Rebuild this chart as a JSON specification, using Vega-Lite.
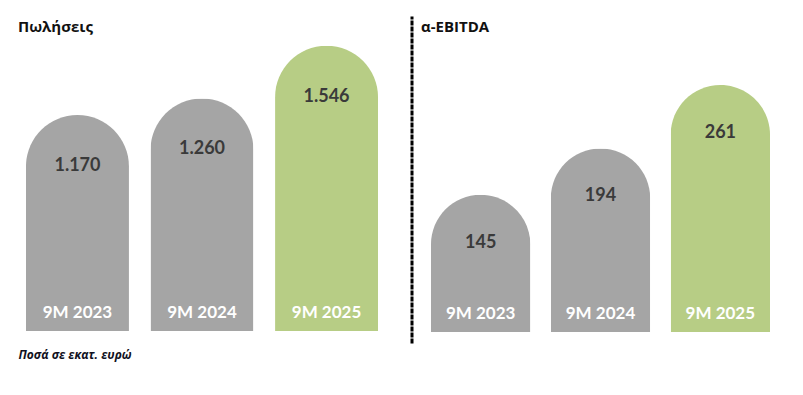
{
  "$schema": "https://vega.github.io/schema/vega-lite/v6.json",
  "background": "white",
  "padding": {"left": 18, "top": 16, "right": 13, "bottom": 10},
  "autosize": {"type": "pad"},
  "spacing": 25.5,
  "bounds": "flush",
  "config": {
    "view": {"stroke": null},
    "locale": {"number": {"decimal": ",", "thousands": ".", "grouping": [3], "currency": ["", " €"]}},
    "title": {"font": "Open Sans", "fontSize": 15, "fontWeight": "bold", "color": "#111111"}
  },
  "datasets": {
    "sales": [
      {"period": "9M 2023", "value": 1170},
      {"period": "9M 2024", "value": 1260},
      {"period": "9M 2025", "value": 1546}
    ],
    "ebitda": [
      {"period": "9M 2023", "value": 145},
      {"period": "9M 2024", "value": 194},
      {"period": "9M 2025", "value": 261}
    ]
  },
  "hconcat": [
    {
      "width": 368,
      "height": 327,
      "data": {"name": "sales"},
      "title": {"text": "Πωλήσεις", "anchor": "start", "frame": "group", "orient": "top", "baseline": "alphabetic", "offset": -17, "dy": 14},
      "encoding": {
        "x": {
          "field": "period", "type": "nominal", "sort": null,
          "scale": {"paddingInner": 0.173, "paddingOuter": 0.064},
          "axis": {
            "title": "Ποσά σε εκατ. ευρώ", "labels": false, "ticks": false, "domain": false, "grid": false,
            "titleAnchor": "start", "titleAlign": "left", "titleFont": "Open Sans", "titleFontStyle": "italic",
            "titleFontWeight": "bold", "titleFontSize": 12, "titleColor": "#111122", "titlePadding": 6
          }
        }
      },
      "layer": [
        {
          "mark": {"type": "bar", "cornerRadiusTopLeft": 51.5, "cornerRadiusTopRight": 51.5},
          "encoding": {
            "y": {"field": "value", "type": "quantitative", "scale": {"domain": [-65, 1707], "nice": false}, "axis": null},
            "color": {"field": "period", "type": "nominal", "scale": {"domain": ["9M 2023", "9M 2024", "9M 2025"], "range": ["#a5a5a5", "#a5a5a5", "#b7cd85"]}, "legend": null}
          }
        },
        {
          "mark": {"type": "text", "dy": 51, "baseline": "middle", "font": "Lato", "fontWeight": "bold", "fontSize": 18, "color": "#3a3a3a"},
          "encoding": {
            "y": {"field": "value", "type": "quantitative"},
            "text": {"field": "value", "type": "quantitative", "format": ",d"}
          }
        },
        {
          "mark": {"type": "text", "dy": -18, "baseline": "middle", "font": "Lato", "fontWeight": "bold", "fontSize": 17, "color": "#ffffff"},
          "encoding": {
            "y": {"datum": 0, "type": "quantitative"},
            "text": {"field": "period", "type": "nominal"}
          }
        }
      ]
    },
    {
      "width": 378,
      "height": 327,
      "data": {"name": "ebitda"},
      "title": {"text": "α-EBITDA", "anchor": "start", "frame": "group", "orient": "top", "baseline": "alphabetic", "offset": -17, "dx": 9.5, "dy": 14},
      "encoding": {
        "x": {
          "field": "period", "type": "nominal", "sort": null,
          "scale": {"paddingInner": 0.171, "paddingOuter": 0.1625},
          "axis": null
        }
      },
      "layer": [
        {
          "mark": {"type": "bar", "cornerRadiusTopLeft": 50, "cornerRadiusTopRight": 50},
          "encoding": {
            "y": {
              "field": "value", "type": "quantitative", "scale": {"domain": [-11.6, 334], "nice": false},
              "axis": {"orient": "left", "title": null, "labels": false, "ticks": false, "grid": false, "domain": true, "domainColor": "#000000", "domainWidth": 3, "domainDash": [5, 1]}
            },
            "color": {"field": "period", "type": "nominal", "scale": {"domain": ["9M 2023", "9M 2024", "9M 2025"], "range": ["#a5a5a5", "#a5a5a5", "#b7cd85"]}, "legend": null}
          }
        },
        {
          "mark": {"type": "text", "dy": 48, "baseline": "middle", "font": "Lato", "fontWeight": "bold", "fontSize": 18, "color": "#3a3a3a"},
          "encoding": {
            "y": {"field": "value", "type": "quantitative"},
            "text": {"field": "value", "type": "quantitative", "format": ",d"}
          }
        },
        {
          "mark": {"type": "text", "dy": -18, "baseline": "middle", "font": "Lato", "fontWeight": "bold", "fontSize": 17, "color": "#ffffff"},
          "encoding": {
            "y": {"datum": 0, "type": "quantitative"},
            "text": {"field": "period", "type": "nominal"}
          }
        }
      ]
    }
  ]
}
